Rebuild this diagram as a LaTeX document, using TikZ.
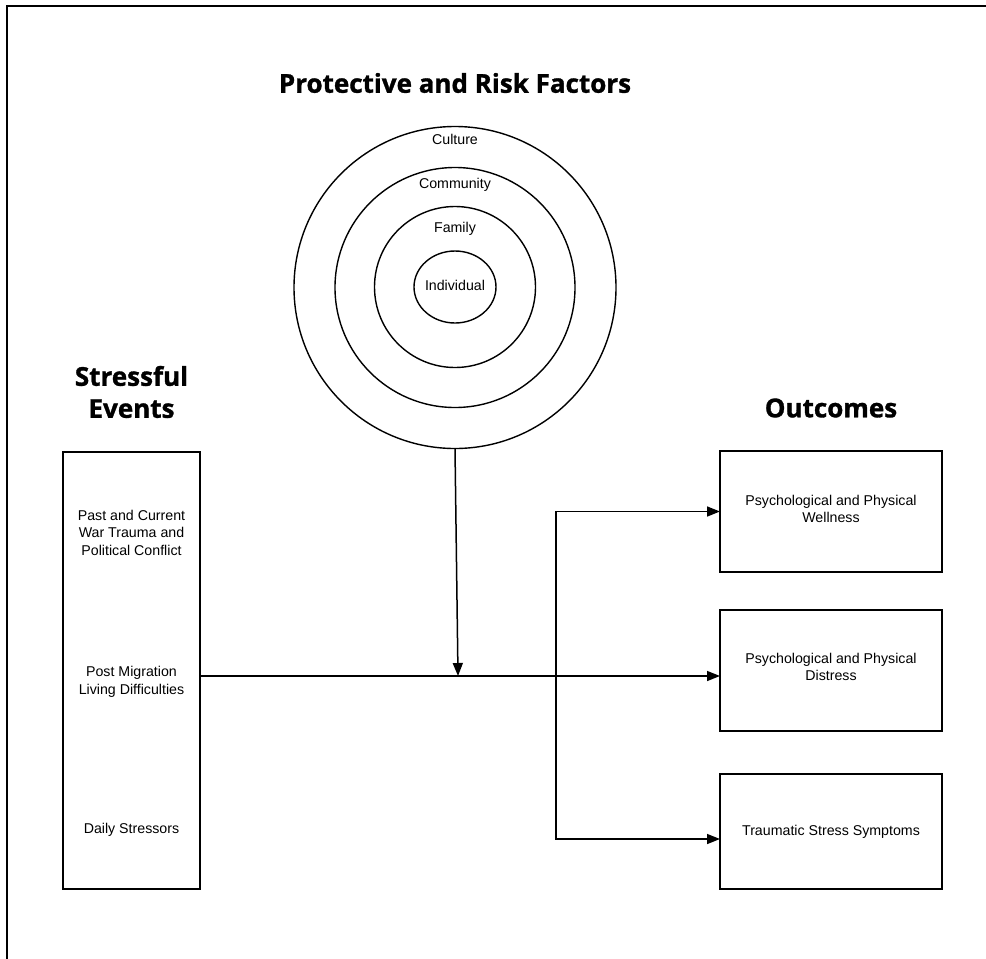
\documentclass[tikz,border=0pt]{standalone}
\usepackage{fontspec}
\setmainfont{Liberation Sans}
\newfontfamily\titlefont[BoldFeatures={FakeBold=1.2}]{Open Sans}
\usetikzlibrary{arrows.meta,shapes.geometric}
\begin{document}
\begin{tikzpicture}[x=1pt,y=-1pt,
  every node/.style={inner sep=0pt, outer sep=0pt},
  ttl/.style={font=\titlefont\bfseries\fontsize{26}{32}\selectfont, align=center},
  lbl/.style={font=\fontsize{14.2}{17.5}\selectfont, align=center},
  box/.style={draw, line width=1.8pt, align=center},
  ring/.style={draw, circle, line width=1.4pt},
  conn/.style={line width=1.5pt},
  arr/.style={conn, -{Triangle[length=13pt,width=10pt]}}]
\useasboundingbox (0,0) rectangle (986,959);
% frame (top and left edges)
\draw[line width=2.5pt] (7,959) -- (7,6) -- (986,6);
% titles
\node[ttl] (ptitle) at (455,83) {Protective and Risk Factors};
\node[ttl] (stitle) at (131.5,392) {Stressful\\Events};
\node[ttl] (otitle) at (831,408) {Outcomes};
% rings
\node[ring, minimum size=322pt] (culture) at (455,287.5) {};
\node[ring, minimum size=240pt] (community) at (455,287.5) {};
\node[ring, minimum size=161pt] (family) at (455,287) {};
\node[draw, ellipse, line width=1.4pt, minimum width=82pt, minimum height=72pt] (indiv) at (455,287) {};
\node[lbl] (lculture) at (455,139) {Culture};
\node[lbl] (lcommunity) at (455,185) {Community};
\node[lbl] (lfamily) at (455,229) {Family};
\node[lbl] (lindiv) at (455,285) {Individual};
% left box
\node[box, minimum width=137pt, minimum height=437pt] (events) at (131.5,670.5) {};
\node[lbl] (ev1) at (131.5,532.5) {Past and Current\\War Trauma and\\Political Conflict};
\node[lbl] (ev2) at (131.5,682) {Post Migration\\Living Difficulties};
\node[lbl] (ev3) at (131.5,830) {Daily Stressors};
% outcome boxes
\node[box, minimum width=222pt, minimum height=121pt] (wellness) at (831,511.5) {};
\node[lbl] (twell) at (831,509) {Psychological and Physical\\Wellness};
\node[box, minimum width=222pt, minimum height=121pt] (distress) at (831,670.5) {};
\node[lbl] (tdist) at (831,667) {Psychological and Physical\\Distress};
\node[box, minimum width=222pt, minimum height=115pt] (trauma) at (831,831.5) {};
\node[lbl] (ttrauma) at (831,832) {Traumatic Stress Symptoms};
% connectors
\coordinate (join) at (458,676);
\coordinate (branch) at (556,676);
\coordinate (tin) at (720,839);
\draw[arr] (culture.south) -- (join);
\draw[arr] (events.east |- join) -- (distress.west |- join);
\draw[arr] (branch) |- (wellness.west);
\draw[arr] (branch) |- (tin);
\end{tikzpicture}
\end{document}
